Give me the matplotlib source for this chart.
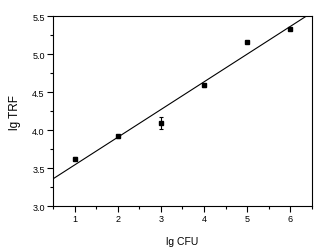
import matplotlib
matplotlib.use("Agg")
import matplotlib.pyplot as plt
import numpy as np
from matplotlib.ticker import MultipleLocator

# lg CFU vs lg TRF
lg_cfu = [1, 2, 3, 4, 5, 6]
lg_trf = [3.62, 3.92, 4.09, 4.59, 5.16, 5.33]
trf_err = [0.02, 0.02, 0.08, 0.02, 0.01, 0.01]

plt.rcParams["font.family"] = ["Liberation Sans", "DejaVu Sans"]

fig = plt.figure(figsize=(3.3, 2.53), dpi=100)
ax = fig.add_axes([53 / 330, 1 - 207 / 253, 259 / 330, 190 / 253])

# linear fit drawn across the whole x range
slope, icpt = np.polyfit(lg_cfu, lg_trf, 1)
xf = np.array([0.5, 6.5])
ax.plot(xf, icpt + slope * xf, color="black", linewidth=0.8)

ax.errorbar(lg_cfu, lg_trf, yerr=trf_err, fmt="s", color="black",
            markersize=3.5, elinewidth=0.8, capsize=1.5, capthick=0.8)

ax.set_xlim(0.5, 6.5)
ax.set_ylim(3.0, 5.5)
ax.xaxis.set_major_locator(MultipleLocator(1))
ax.xaxis.set_minor_locator(MultipleLocator(0.5))
ax.yaxis.set_major_locator(MultipleLocator(0.5))
ax.yaxis.set_minor_locator(MultipleLocator(0.25))
ax.yaxis.set_major_formatter(plt.FormatStrFormatter("%.1f"))
ax.tick_params(which="major", direction="out", length=4, width=0.8, labelsize=6.5, pad=2)
ax.tick_params(which="minor", direction="out", length=2, width=0.8)
for s in ax.spines.values():
    s.set_linewidth(0.8)

ax.set_xlabel("lg CFU", fontsize=7.5, labelpad=9)
ax.set_ylabel("lg TRF", fontsize=8.5, labelpad=8)

fig.savefig("out.png", dpi=100)
